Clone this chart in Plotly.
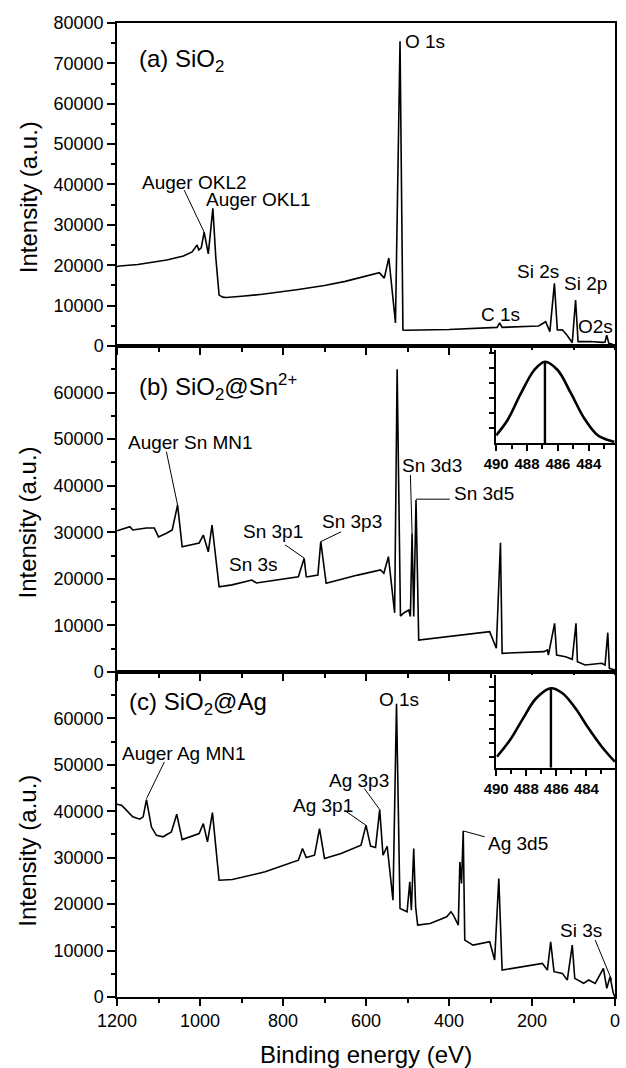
import plotly.graph_objects as go

FONT = "Liberation Sans, Arial, sans-serif"

# ---- (a) SiO2 survey spectrum
energy_a = [1200, 1193, 1150, 1100, 1080, 1040, 1019, 1007, 1003, 997, 990, 980, 969, 962,
            954, 945, 937, 900, 850, 763, 700, 650, 600, 568, 556, 545, 529, 518, 511, 505,
            400, 294, 284, 278, 272, 200, 184, 167, 157, 146, 139, 127, 115, 103, 95, 89,
            60, 30, 24, 20, 15, 8, 0]
counts_a = [19700, 19800, 20200, 20900, 21300, 22300, 23300, 25000, 23800, 24300, 28200, 22800,
            34100, 22000, 12600, 12100, 12000, 12300, 12800, 14000, 15000, 16000, 17200, 18150,
            16800, 21800, 5700, 75500, 3960, 3900, 4100, 4450, 4600, 5700, 4600, 4900, 4950,
            6000, 3540, 15500, 3960, 4000, 2600, 800, 11400, 1070, 1100, 900, 1000, 2700, 700,
            500, 0]

# ---- (b) SiO2@Sn2+ survey spectrum
energy_b = [1200, 1193, 1169, 1162, 1129, 1110, 1100, 1081, 1067, 1054, 1045, 1043, 1002, 992,
            980, 971, 954, 923, 875, 864, 763, 749, 744, 740, 716, 709, 696, 620, 565, 557,
            546, 531, 525, 517, 509, 497, 493, 489, 485, 479.5, 473, 302, 286, 276, 272, 171,
            163, 160.5, 145.5, 140.7, 119, 103, 94, 90.6, 72, 32, 24, 17.4, 13.6, 0]
counts_b = [30300, 30500, 31200, 30500, 30900, 30900, 29000, 29800, 30500, 35850, 28000, 26900,
            27700, 29400, 25800, 31550, 18300, 18700, 19750, 19100, 20450, 24400, 20450, 20450,
            20800, 27980, 19040, 20800, 21900, 21200, 24750, 12700, 65000, 12000, 12660, 13300,
            11900, 29800, 11900, 36900, 6870, 8650, 5090, 27760, 4010, 4360, 4720, 3650, 10450,
            3650, 3290, 2720, 10450, 2210, 1500, 1860, 1500, 8440, 790, 430]

# ---- (c) SiO2@Ag survey spectrum
energy_c = [1200, 1189, 1177, 1162, 1145, 1137, 1129, 1117, 1105, 1089, 1069, 1056, 1043, 1022,
            1002, 992, 982, 970, 954, 922, 843, 763, 753, 744, 724, 712, 700, 660, 612, 600,
            589, 577, 567, 559, 549, 535, 526.5, 518, 501, 494.5, 490.7, 485, 480.4, 475.5,
            445.5, 405.5, 395.3, 389.5, 377.6, 373.8, 369.8, 365.7, 362, 342, 302, 290, 280,
            272, 175, 163, 155, 147, 127, 115, 103, 97, 75.6, 63.7, 47.7, 27.9, 19.8, 11.9, 4, 0]
counts_c = [41500, 41300, 40200, 38800, 38300, 38800, 42500, 36600, 34800, 34500, 35550, 39350,
            33900, 34500, 35200, 37350, 33400, 39700, 25150, 25300, 26950, 29450, 31970, 30040,
            30530, 36270, 29830, 30900, 32700, 37000, 32500, 32200, 40360, 30530, 32470, 20860,
            63150, 19070, 18340, 24800, 18700, 31970, 19400, 15480, 15840, 17270, 18340, 17630,
            15480, 29090, 24450, 35760, 12260, 11180, 11890, 7960, 25520, 5800, 7240, 5800,
            11890, 5450, 5090, 3650, 11180, 4020, 2950, 3650, 2940, 6170, 1870, 4370, 800, 0]

# ---- insets (peak near 486 eV)
inset_b_energy = [490.0, 489.27, 488.4, 487.53, 486.84, 486.02, 485.15, 484.29, 483.42, 482.55, 482.34]
inset_b_counts = [0.53, 1.53, 3.31, 4.87, 5.42, 4.87, 3.31, 1.65, 0.53, 0.15, 0.1]
inset_b_peak = [486.84, 5.42]

inset_c_energy = [489.95, 489.08, 488.21, 487.34, 486.36, 485.59, 484.73, 483.86, 482.98, 482.11]
inset_c_counts = [0.78, 1.96, 3.50, 4.92, 5.63, 5.28, 4.21, 2.79, 1.49, 0.43]
inset_c_peak = [486.36, 5.63]

# peak labels: (text, x, y, size, anchor)
labels_a = [('(a) SiO<sub>2</sub>', 1152, 70800, 24, 'left'),
            ('O 1s', 457, 75400, 19, 'center'),
            ('Auger OKL2', 1014, 40600, 19, 'center'),
            ('Auger OKL1', 858, 36200, 19, 'center'),
            ('C 1s', 277, 7700, 19, 'center'),
            ('Si 2s', 185, 18400, 19, 'center'),
            ('Si 2p', 70, 15500, 19, 'center'),
            ('O2s', 48, 4800, 19, 'center')]
labels_b = [('(b) SiO<sub>2</sub>@Sn<sup>2+</sup>', 1152, 61250, 24, 'left'),
            ('Auger Sn MN1', 1023, 49300, 19, 'center'),
            ('Sn 3s', 870, 23000, 19, 'center'),
            ('Sn 3p1', 825, 30100, 19, 'center'),
            ('Sn 3p3', 634, 32300, 19, 'center'),
            ('Sn 3d3', 441, 44400, 19, 'center'),
            ('Sn 3d5', 316, 38400, 19, 'center')]
labels_c = [('(c) SiO<sub>2</sub>@Ag', 1176, 63150, 24, 'left'),
            ('Auger Ag MN1', 1038, 52400, 19, 'center'),
            ('Ag 3p1', 704, 41300, 19, 'center'),
            ('Ag 3p3', 616, 46700, 19, 'center'),
            ('O 1s', 521, 64000, 19, 'center'),
            ('Ag 3d5', 234, 33050, 19, 'center'),
            ('Si 3s', 81, 14400, 19, 'center')]

# leader lines: (x0, y0, x1, y1)
leaders_a = [(1038, 38600, 990, 28200)]
leaders_b = [(1081, 47300, 1054, 35850),
             (795, 27300, 749, 24450),
             (660, 30100, 709, 27980),
             (493, 42300, 489, 29800),
             (398, 37100, 479.5, 37100)]
leaders_c = [(1086, 50600, 1129, 42700),
             (652, 40200, 600.4, 37000),
             (604, 44900, 567, 40360),
             (314, 34500, 365.7, 35760),
             (47.7, 12260, 7.9, 3650)]


def goLine(x, y, xaxis, yaxis, width=1.6, shape='linear'):
    return go.Scatter(x=x, y=y, xaxis=xaxis, yaxis=yaxis, mode='lines',
                      line=dict(color='black', width=width, shape=shape),
                      showlegend=False, hoverinfo='skip')


def xMain(anchor, labels):
    return dict(domain=[0, 1], anchor=anchor, range=[1200, 0], dtick=200,
                ticks='outside', ticklen=7, tickwidth=1.5, tickcolor='black',
                minor=dict(dtick=100, ticks='outside', ticklen=4, tickwidth=1.5, tickcolor='black'),
                showline=True, linewidth=1.5, linecolor='black', mirror=True,
                showgrid=False, zeroline=False, showticklabels=labels,
                tickfont=dict(size=18))


def yMain(anchor, domain, top):
    return dict(domain=domain, anchor=anchor, range=[0, top], dtick=10000, tickformat='d',
                ticks='outside', ticklen=8, tickwidth=1.5, tickcolor='black',
                minor=dict(dtick=5000, ticks='outside', ticklen=4, tickwidth=1.5, tickcolor='black'),
                showline=True, linewidth=1.5, linecolor='black', mirror=True,
                showgrid=False, zeroline=False, tickfont=dict(size=18))


def xInset(anchor, domain, rng):
    return dict(domain=domain, anchor=anchor, range=rng, tick0=0, dtick=2,
                ticks='outside', ticklen=6, tickwidth=2, tickcolor='black',
                minor=dict(dtick=1, ticks='outside', ticklen=4, tickwidth=2, tickcolor='black'),
                showline=True, linewidth=2.2, linecolor='black',
                showgrid=False, zeroline=False,
                tickfont=dict(size=15, weight='bold'))


def yInset(anchor, domain, rng, vals):
    return dict(domain=domain, anchor=anchor, range=rng, tickvals=vals, showticklabels=False,
                ticks='outside', ticklen=5, tickwidth=2, tickcolor='black',
                showline=True, linewidth=2.2, linecolor='black',
                showgrid=False, zeroline=False)


def main():
    fig = go.Figure()
    fig.add_trace(goLine(energy_a, counts_a, 'x3', 'y3'))
    fig.add_trace(goLine(energy_b, counts_b, 'x2', 'y2'))
    fig.add_trace(goLine(energy_c, counts_c, 'x', 'y'))

    fig.add_trace(goLine(inset_b_energy, inset_b_counts, 'x4', 'y4', 2.6, 'spline'))
    fig.add_trace(goLine([inset_b_peak[0]] * 2, [0, inset_b_peak[1]], 'x4', 'y4', 2.4))
    fig.add_trace(goLine(inset_c_energy, inset_c_counts, 'x5', 'y5', 2.6, 'spline'))
    fig.add_trace(goLine([inset_c_peak[0]] * 2, [0, inset_c_peak[1]], 'x5', 'y5', 2.4))

    annotations = []
    shapes = []
    for labels, leaders, xr, yr in [(labels_a, leaders_a, 'x3', 'y3'),
                                    (labels_b, leaders_b, 'x2', 'y2'),
                                    (labels_c, leaders_c, 'x', 'y')]:
        for text, x, y, size, anchor in labels:
            annotations.append(dict(text=text, x=x, y=y, xref=xr, yref=yr, showarrow=False,
                                    xanchor=anchor, yanchor='middle', font=dict(size=size)))
        for x0, y0, x1, y1 in leaders:
            shapes.append(dict(type='line', x0=x0, y0=y0, x1=x1, y1=y1, xref=xr, yref=yr,
                               line=dict(color='black', width=1)))

    for ypos in [0.821, 0.487, 0.150]:
        annotations.append(dict(text='Intensity (a.u.)', textangle=-90, x=-0.179, y=ypos,
                                xref='paper', yref='paper', showarrow=False,
                                xanchor='center', yanchor='middle', font=dict(size=24)))
    annotations.append(dict(text='Binding energy (eV)', x=0.499, y=-0.0595,
                            xref='paper', yref='paper', showarrow=False,
                            xanchor='center', yanchor='middle', font=dict(size=24)))

    fig.update_layout(
        width=626, height=1068,
        margin=dict(l=117, r=6, t=23, b=71),
        paper_bgcolor='white', plot_bgcolor='white',
        font=dict(family=FONT, color='black'),
        showlegend=False,
        xaxis=xMain('y', True),
        xaxis2=xMain('y2', False),
        xaxis3=xMain('y3', False),
        yaxis=yMain('x', [0, 0.3337], 69990),
        yaxis2=yMain('x2', [0.3337, 0.6684], 69990),
        yaxis3=yMain('x3', [0.6684, 1], 80000),
        xaxis4=xInset('y4', [0.7614, 1], [490, 482.3]),
        yaxis4=yInset('x4', [0.5685, 0.6643], [0, 6.2], [1, 2, 3, 4, 5, 6]),
        xaxis5=xInset('y5', [0.7614, 1], [490, 482.1]),
        yaxis5=yInset('x5', [0.2354, 0.3306], [0, 6.57], [0.74, 1.74, 2.74, 3.74, 4.74, 5.74]),
        annotations=annotations,
        shapes=shapes,
    )
    # drop the browser's default page margin so the figure sits at the window corner
    fig.write_html("out.html", config={'displayModeBar': False},
                   post_script="document.body.style.margin='0';document.body.style.overflow='hidden';")


if __name__ == '__main__':
    main()
